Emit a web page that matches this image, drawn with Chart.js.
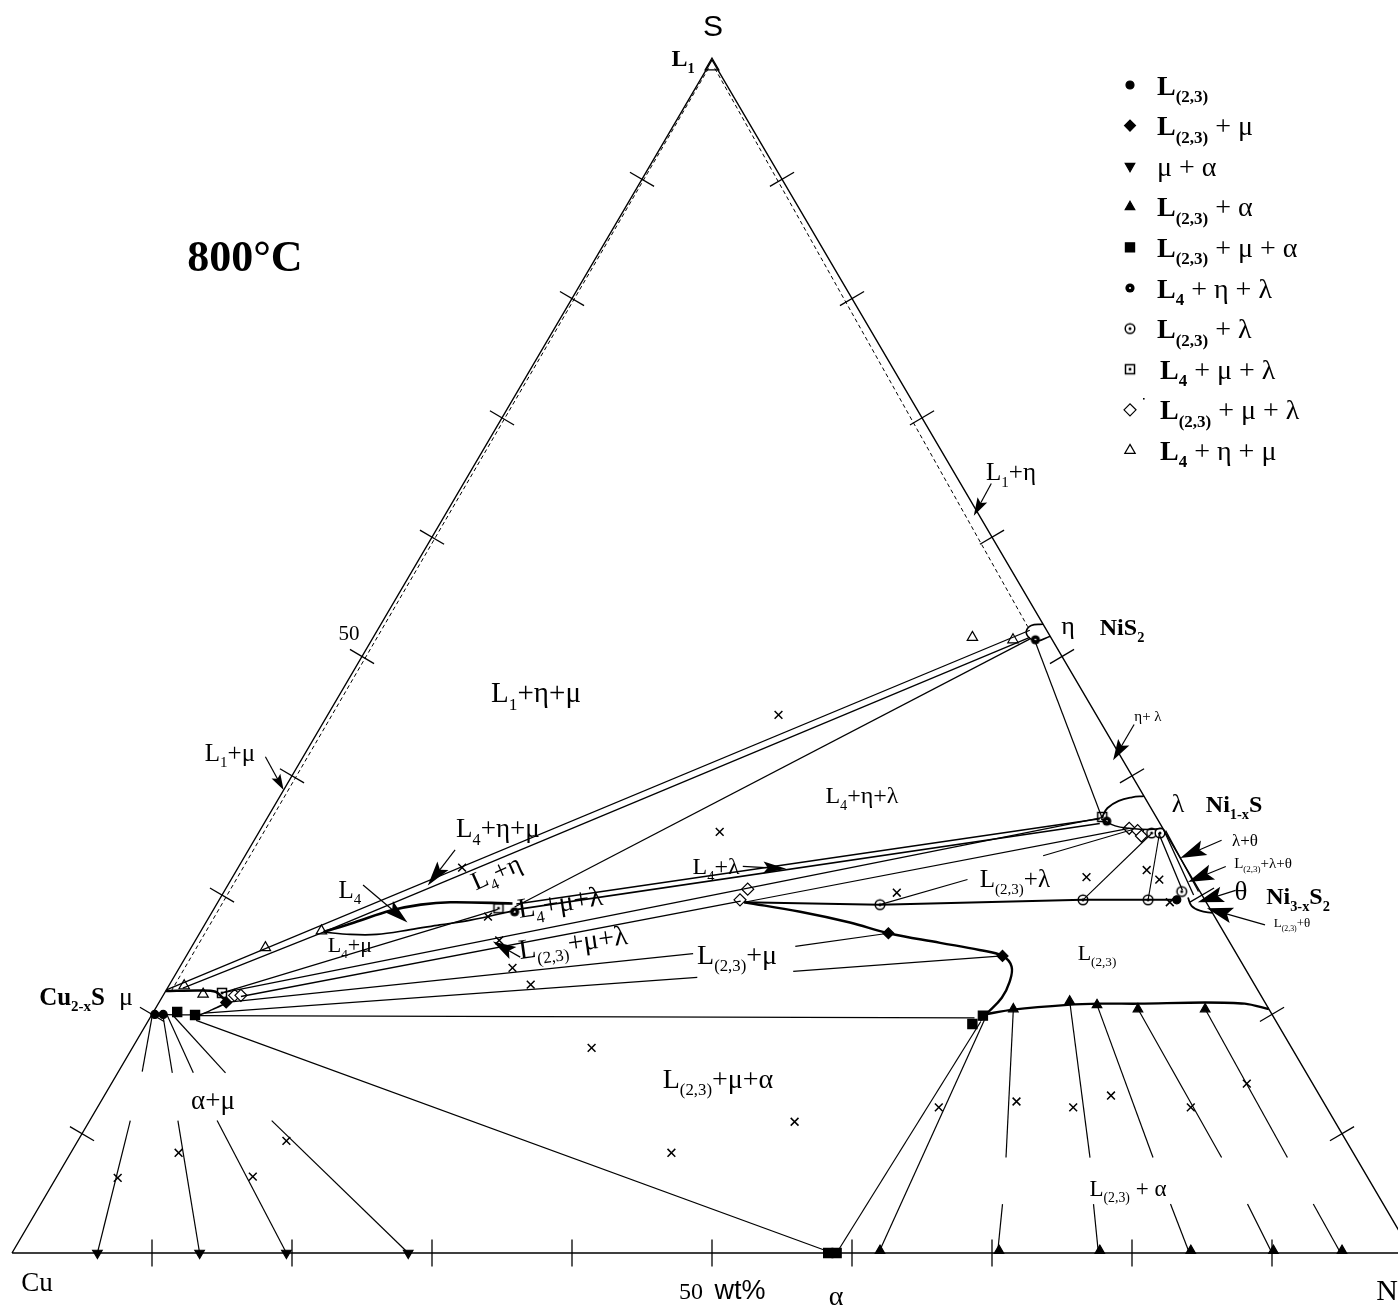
<!DOCTYPE html>
<html>
<head>
<meta charset="utf-8">
<script src="https://cdn.jsdelivr.net/npm/chart.js@4.4.1/dist/chart.umd.min.js"></script>
<style>
html,body{margin:0;padding:0;background:#fff}
#wrap{width:1398px;height:1306px;position:relative}
</style>
</head>
<body>
<div id="wrap"><canvas id="c"></canvas></div>
<script>
const SERIF='"Liberation Serif","DejaVu Serif",serif';
const SANS='"Liberation Sans","DejaVu Sans",sans-serif';

// ---- compositions, each point is [wt% Ni, wt% S] (Cu = remainder) ----
const triangleFrame=[[0,0],[100,0],[0,100],[0,0]];
const tickValues=[10,20,30,40,50,60,70,80,90];

// L1 (sulfur liquid) limits
const l1CuSide=[[0.1,99.3],[0.4,22.0]];
const l1NiSide=[[0.55,99.3],[46.3,52.5]];

// tie lines / triangles around eta, L4 and lambda
const etaMu=[[0,22.05],[46.6,52.2]];
const l4EtaA=[[8.8,26.9],[46.9,51.6]];
const muL4Tip=[[1.1,22.2],[8.8,26.9]];
const l4EtaB=[[21.4,29.0],[47.0,51.5]];
const etaLambda=[[47.5,51.2],[59.6,36.5]];
const l4Upper=[[8.8,26.9],[10.6,27.7],[12.7,28.7],[14.6,29.2],[16.6,29.4],[21.1,29.3]];
const l4Lower=[[8.8,26.9],[10.8,26.7],[12.7,26.7],[14.9,27.1],[16.8,27.5],[18.8,27.9],[21.5,28.7]];
const l4LambdaUpper=[[21.4,29.25],[59.5,36.4]];
const l4LambdaLower=[[21.7,28.8],[59.7,36.0]];
const muLambda=[[4.1,21.8],[59.6,36.5]];
const muL4=[[4.1,21.8],[20.3,28.8]];
const muL23=[[5.6,21.5],[37.3,29.5]];
const l23Lambda=[[37.6,29.4],[62.0,35.6]];
const l23Upper=[[37.6,29.4],[47.4,29.2],[61.7,29.6],[68.5,29.6]];
const l23LambdaTies=[
  [[47.4,29.2],[52.6,31.3]], [[57.0,33.3],[62.3,35.5]],
  [[61.7,29.6],[63.8,35.1]], [[66.35,29.6],[64.4,35.1]]
];
const lambdaUpper=[[59.6,36.55],[59.6,37.3],[60.1,37.9],[60.9,38.2],[61.7,38.3]];
const lambdaLower=[[59.6,36.4],[60.9,35.8],[62.0,35.6],[63.5,35.5],[64.4,35.6]];
const lambdaTheta=[
  [[64.3,35.2],[68.4,30.4]], [[64.5,35.5],[69.4,30.0]], [[64.7,35.4],[69.6,30.3]]
];
const thetaBoundary=[[69.1,29.8],[69.7,29.1],[70.5,28.7],[71.5,28.5]];
const etaField=[[47.3,52.7],[46.5,52.6],[46.4,52.1],[46.9,51.55],[47.6,51.3],[48.3,51.7]];

// mu (Cu2-xS) field
const muUpper=[[0,21.96],[2.5,22.0],[3.6,21.9],[4.2,21.5],[4.9,21.0]];
const muLower=[[4.9,21.0],[4.1,20.4],[3.4,20.0],[0,20.0]];

// L(2,3) liquid field
const l23Left=[[37.6,29.4],[42.0,28.6],[46.0,27.7],[49.2,26.8],[53.3,26.0],[56.4,25.4],[58.3,24.9],[59.4,24.0],[59.9,22.7],[60.0,21.4],[59.6,20.1],[59.4,19.5]];
const l23Lower=[[59.5,20.0],[61.3,20.4],[65.0,20.8],[67.3,20.9],[70.1,20.9],[74.7,21.0],[77.6,20.9],[79.55,20.45]];
const l23MuTies=[
  [[4.8,21.0],[36.1,25.1]], [[43.1,25.7],[49.2,26.8]],
  [[3.7,20.1],[37.4,23.1]], [[44.0,23.6],[58.3,24.9]]
];

// L(2,3) + mu + alpha triangle
const muL23Base=[[3.3,19.9],[58.9,19.7]];
const muAlpha=[[3.4,19.5],[58.6,0]];
const l23AlphaEdge=[[59.5,19.4],[58.9,0]];

// alpha + mu and L(2,3) + alpha tie lines (broken around the field labels)
const muAlphaTies=[
  [[0,20.1],[1.7,15.2]], [[0.8,19.95],[3.9,15.1]], [[1.1,19.95],[5.4,15.1]], [[1.5,19.95],[7.7,15.1]],
  [[2.9,11.1],[6.1,0]], [[6.3,11.1],[13.4,0]], [[9.1,11.1],[19.6,0]], [[13.0,11.1],[28.3,0]]
];
const l23AlphaTies=[
  [[59.7,19.5],[61.9,0]],
  [[61.3,20.45],[67.0,8.0]], [[68.7,4.1],[70.4,0]],
  [[65.0,21.1],[73.0,8.0]], [[75.2,4.1],[77.6,0]],
  [[67.1,20.8],[77.5,8.0]], [[80.7,4.1],[84.1,0]],
  [[70.2,20.45],[82.4,8.0]], [[86.2,4.1],[90.0,0]],
  [[75.0,20.45],[87.1,8.0]], [[90.9,4.1],[94.9,0]]
];

// experimental points by phase assemblage
const ptsL1=[[0.25,99.5]];
const ptsL23=[[0.2,20.0],[0.8,20.0],[68.4,29.6]];
const ptsL23Mu=[[4.8,21.0],[49.2,26.8],[58.3,24.9]];
const ptsMuAlpha=[[6.1,0],[13.4,0],[19.6,0],[28.3,0]];
const ptsL23Alpha=[[61.3,20.45],[65.0,21.1],[67.1,20.8],[70.2,20.45],[75.0,20.45],
                   [61.9,0.2],[70.4,0.2],[77.6,0.2],[84.1,0.2],[90.0,0.2],[94.9,0.2]];
const ptsL23MuAlpha=[[1.7,20.2],[3.1,19.95],[59.0,19.2],[59.4,19.9],[58.3,0],[58.9,0]];
const ptsL4EtaLambda=[[21.6,28.6],[47.4,51.4],[60.1,36.2]];
const ptsL23Lambda=[[47.4,29.2],[61.7,29.6],[66.35,29.6],[63.8,35.2],[64.4,35.2],[68.4,30.3]];
const ptsL4MuLambda=[[4.1,21.8],[20.3,28.9],[59.6,36.55]];
const ptsL23MuLambda=[[5.1,21.6],[5.55,21.6],[37.2,29.6],[37.3,30.5],[62.0,35.6],[62.7,35.4],[63.2,34.95]];
const ptsL4EtaMu=[[1.1,22.4],[2.8,21.7],[5.3,25.6],[8.6,27.0],[42.8,51.6],[45.8,51.4]];
const bulkSamples=[[32.2,45.1],[32.9,35.3],[16.0,32.3],[19.9,28.2],[21.7,26.2],[23.8,23.9],[25.8,22.5],
  [48.1,30.2],[61.0,31.5],[65.0,32.1],[66.3,31.3],[68.0,29.4],[32.8,17.2],[50.4,11.0],[42.9,8.4],
  [60.1,12.2],[65.4,12.7],[69.7,12.2],[71.9,13.2],[78.1,12.2],[81.1,14.2],
  [4.4,6.3],[7.7,8.4],[14.0,6.4],[14.9,9.4]];

// pointer arrows: [tail, tip]
const arrows=[
  {from:[-2.7,41.6], to:[0.0,38.8], head:[16,5]},
  {from:[37.7,64.5], to:[37.8,61.8], head:[18,5.5]},
  {from:[58.0,44.3], to:[58.0,41.3], head:[21,6.5]},
  {from:[14.75,33.8], to:[14.3,30.8], head:[25,7]},
  {from:[9.65,30.85], to:[14.4,27.7], head:[25,7]},
  {from:[36.0,32.4], to:[39.2,32.2], head:[23,6]},
  {from:[23.9,24.8], to:[21.3,26.1], head:[23,7]},
  {from:[69.1,34.6], to:[66.9,33.1], head:[26,8]},
  {from:[70.5,32.4], to:[68.45,31.1], head:[26,8]},
  {from:[72.2,30.4], to:[70.0,29.4], head:[26,8]},
  {from:[75.75,27.5], to:[70.9,28.9], head:[26,8]}
];

// text placed in chart units (x = Ni + S/2, y = S)
const labels=[
  {t:'S', at:[50.07,102.85], size:30, fam:SANS},
  {t:'*L_{1}*', at:[47.93,100.17], size:24},
  {t:'*800°C*', at:[16.64,83.57], size:44},
  {t:'50', at:[24.07,51.97], size:21},
  {t:'L_{1}+η+μ', at:[37.43,47.02], size:29},
  {t:'L_{1}+μ', at:[15.57,41.99], size:25},
  {t:'L_{1}+η', at:[71.36,65.47], size:25},
  {t:'η', at:[75.43,52.64], size:26},
  {t:'*NiS_{2}*', at:[79.29,52.47], size:24},
  {t:'η+ λ', at:[81.14,45.01], size:15},
  {t:'λ', at:[83.29,37.72], size:26},
  {t:'*Ni_{1-x}S*', at:[87.29,37.64], size:24},
  {t:'λ+θ', at:[88.07,34.62], size:17},
  {t:'L_{(2,3)}+λ+θ', at:[89.36,32.69], size:15},
  {t:'θ', at:[87.79,30.34], size:27},
  {t:'*Ni_{3-x}S_{2}*', at:[91.86,29.92], size:24},
  {t:'L_{(2,3)}+θ', at:[91.43,27.66], size:13},
  {t:'L_{4}+η+λ', at:[60.71,38.39], size:24},
  {t:'L_{4}+η+μ', at:[34.71,35.62], size:27},
  {t:'L_{4}+η', at:[34.57,31.94], size:26, rot:-24},
  {t:'L_{4}', at:[24.14,30.51], size:25},
  {t:'L_{4}+μ', at:[24.14,25.82], size:22},
  {t:'L_{4}+μ+λ', at:[39.14,29.42], size:28, rot:-9},
  {t:'L_{(2,3)}+μ+λ', at:[40.07,26.07], size:28, rot:-8},
  {t:'L_{4}+λ', at:[50.29,32.44], size:24},
  {t:'L_{(2,3)}+λ', at:[71.64,31.35], size:25},
  {t:'L_{(2,3)}+μ', at:[51.79,25.06], size:28},
  {t:'L_{(2,3)}', at:[77.5,25.15], size:22},
  {t:'*Cu_{2-x}S*', at:[4.29,21.54], size:25},
  {t:'μ', at:[8.14,21.54], size:26},
  {t:'α+μ', at:[14.36,12.82], size:27},
  {t:'L_{(2,3)}+μ+α', at:[50.43,14.67], size:28},
  {t:'L_{(2,3)} + α', at:[79.71,5.45], size:23},
  {t:'Cu', at:[1.79,-2.43], size:27},
  {t:'50', at:[48.5,-3.19], size:24},
  {t:'wt%', at:[52.0,-3.1], size:27, fam:SANS},
  {t:'α', at:[58.86,-3.6], size:28},
  {t:'Ni', at:[97.45,-3.1], size:30, align:'left'}
];

// legend rows (marker key, text)
const legendRows=[
  ['l23','*L_{(2,3)}*'],
  ['l23mu','*L_{(2,3)}* + μ'],
  ['mua','μ + α'],
  ['l23a','*L_{(2,3)}* + α'],
  ['l23mua','*L_{(2,3)}* + μ + α'],
  ['l4el','*L_{4}* + η + λ'],
  ['l23l','*L_{(2,3)}* + λ'],
  ['l4ml','*L_{4}* + μ + λ'],
  ['l23ml','*L_{(2,3)}* + μ + λ'],
  ['l4em','*L_{4}* + η + μ']
];

// ---- marker glyphs ----
function glyph(size, paint){
  const c=document.createElement('canvas'); c.width=size; c.height=size;
  const g=c.getContext('2d'); paint(g,size/2); return c;
}
const ringGlyph=glyph(12,(g,h)=>{g.fillStyle='#000';g.beginPath();g.arc(h,h,4.6,0,Math.PI*2);g.fill();
  g.fillStyle='#fff';g.beginPath();g.arc(h,h,1.1,0,Math.PI*2);g.fill();});
const dotCircleGlyph=glyph(14,(g,h)=>{g.fillStyle='#fff';g.strokeStyle='#000';g.lineWidth=1.5;
  g.beginPath();g.arc(h,h,4.8,0,Math.PI*2);g.fill();g.stroke();
  g.fillStyle='#000';g.beginPath();g.arc(h,h,1.5,0,Math.PI*2);g.fill();});
const dotSquareGlyph=glyph(14,(g,h)=>{g.fillStyle='#fff';g.strokeStyle='#000';g.lineWidth=1.5;
  g.fillRect(h-4.5,h-4.5,9,9);g.strokeRect(h-4.5,h-4.5,9,9);
  g.fillStyle='#000';g.fillRect(h-1.3,h-1.3,2.6,2.6);});

const MARK={
  l23:{pointStyle:'circle',radius:4,bg:'#000'},
  l23mu:{pointStyle:'rectRot',radius:5.5,bg:'#000'},
  mua:{pointStyle:'triangle',rotation:180,radius:5.5,bg:'#000'},
  l23a:{pointStyle:'triangle',radius:5.5,bg:'#000'},
  l23mua:{pointStyle:'rect',radius:6.5,bg:'#000'},
  l4el:{pointStyle:ringGlyph,radius:5,bg:'#000'},
  l23l:{pointStyle:dotCircleGlyph,radius:5,bg:'#fff'},
  l4ml:{pointStyle:dotSquareGlyph,radius:5,bg:'#fff'},
  l23ml:{pointStyle:'rectRot',radius:6,bg:'#fff'},
  l4em:{pointStyle:'triangle',radius:6,bg:'#fff'}
};

// ---- dataset builders ----
const toXY=p=>({x:p[0]+p[1]/2, y:p[1]});
function path(pts,w,extra){
  return Object.assign({data:pts.map(toXY),showLine:true,borderColor:'#000',borderWidth:w||1.2,
    pointRadius:0,fill:false,tension:0},extra||{});
}
function points(pts,key,extra){
  const m=MARK[key];
  return Object.assign({data:pts.map(toXY),showLine:false,pointStyle:m.pointStyle,pointRadius:m.radius,
    pointRotation:m.rotation||0,backgroundColor:m.bg,borderColor:'#000',borderWidth:1.2},extra||{});
}

const datasets=[
  path(triangleFrame,1.4),
  path(l1CuSide,1.0,{borderDash:[4,3]}),
  path(l1NiSide,1.0,{borderDash:[4,3]}),
  path(etaMu,1.3), path(l4EtaA,1.3), path(muL4Tip,1.2), path(l4EtaB,1.2), path(etaLambda,1.2),
  path(l4Upper,2.6,{tension:0.35}), path(l4Lower,1.7,{tension:0.35}),
  path(l4LambdaUpper,1.6), path(l4LambdaLower,1.6),
  path(muLambda,1.3), path(muL4,1.2), path(muL23,1.3), path(l23Lambda,1.2),
  path(l23Upper,2.0),
  ...l23LambdaTies.map(s=>path(s,1.1)),
  path(lambdaUpper,1.8,{tension:0.4}), path(lambdaLower,1.5,{tension:0.4}),
  ...lambdaTheta.map(s=>path(s,1.3)),
  path(thetaBoundary,1.8,{tension:0.4}),
  path(etaField,1.6,{tension:0.4}),
  path(muUpper,2.6,{tension:0.3}), path(muLower,1.4,{tension:0.3}),
  path(l23Left,2.4,{tension:0.4}), path(l23Lower,2.4,{tension:0.3}),
  ...l23MuTies.map(s=>path(s,1.2)),
  path(muL23Base,1.3), path(muAlpha,1.2), path(l23AlphaEdge,1.2),
  ...muAlphaTies.map(s=>path(s,1.2)),
  ...l23AlphaTies.map(s=>path(s,1.2)),
  {data:bulkSamples.map(toXY),showLine:false,pointStyle:'crossRot',pointRadius:5.5,borderColor:'#000',borderWidth:1.5},
  points(ptsL1,'l4em',{pointRadius:8}),
  points(ptsL23,'l23'),
  points(ptsL23Mu,'l23mu'),
  points(ptsMuAlpha,'mua'),
  points(ptsL23Alpha,'l23a'),
  points(ptsL23MuAlpha,'l23mua'),
  points(ptsL4EtaLambda,'l4el'),
  points(ptsL23Lambda,'l23l'),
  points(ptsL4MuLambda,'l4ml'),
  points(ptsL23MuLambda,'l23ml'),
  points(ptsL4EtaMu,'l4em')
];

// ---- rich text: *bold* toggles, _{...} subscript ----
function segments(str){
  const out=[];let bold=false,buf='',i=0;
  const push=(t,sub)=>{if(t)out.push({t,sub,bold});};
  while(i<str.length){
    const c=str[i];
    if(c==='*'){push(buf,false);buf='';bold=!bold;i++;}
    else if(c==='_'&&str[i+1]==='{'){push(buf,false);buf='';const j=str.indexOf('}',i);push(str.slice(i+2,j),true);i=j+1;}
    else{buf+=c;i++;}
  }
  push(buf,false);return out;
}
function drawRich(ctx,str,x,y,o){
  const size=o.size,fam=o.fam||SERIF,subSize=o.subSize||size*0.6;
  const segs=segments(str);
  const font=s=>(s.bold?'bold ':'')+(s.sub?subSize:size)+'px '+fam;
  let w=0;segs.forEach(s=>{ctx.font=font(s);s.w=ctx.measureText(s.t).width;w+=s.w;});
  ctx.save();ctx.translate(x,y);if(o.rot)ctx.rotate(o.rot*Math.PI/180);
  let cx=o.align==='left'?0:(o.align==='right'?-w:-w/2);
  ctx.textAlign='left';ctx.textBaseline='alphabetic';ctx.fillStyle='#000';
  const base=size*0.34;
  segs.forEach(s=>{ctx.font=font(s);ctx.fillText(s.t,cx,base+(s.sub?size*0.27:0));cx+=s.w;});
  ctx.restore();
}

function drawMarker(ctx,key,x,y){
  const m=MARK[key];
  ctx.save();ctx.fillStyle=m.bg;ctx.strokeStyle='#000';ctx.lineWidth=1.2;
  Chart.helpers.drawPoint(ctx,{pointStyle:m.pointStyle,radius:m.radius,rotation:m.rotation||0,borderWidth:1.2},x,y);
  ctx.restore();
}

const decor={
  id:'decor',
  beforeDraw(chart){const c=chart.ctx;c.save();c.fillStyle='#fff';c.fillRect(0,0,chart.width,chart.height);c.restore();},
  afterDatasetsDraw(chart){
    const ctx=chart.ctx,xs=chart.scales.x,ys=chart.scales.y;
    const P=p=>({x:xs.getPixelForValue(p[0]+p[1]/2),y:ys.getPixelForValue(p[1])});
    const Q=a=>({x:xs.getPixelForValue(a[0]),y:ys.getPixelForValue(a[1])});
    ctx.save();ctx.strokeStyle='#000';ctx.fillStyle='#000';ctx.lineWidth=1.3;
    // edge ticks, perpendicular to each side
    const edges=[
      {a:[0,0],b:[100,0],at:v=>[v,0],len:13.5},
      {a:[0,0],b:[0,100],at:v=>[0,v],len:14},
      {a:[100,0],b:[0,100],at:v=>[100-v,v],len:14}
    ];
    edges.forEach(e=>{
      const A=P(e.a),B=P(e.b);let dx=B.x-A.x,dy=B.y-A.y;const L=Math.hypot(dx,dy);dx/=L;dy/=L;
      const nx=-dy,ny=dx;
      tickValues.forEach(v=>{const C=P(e.at(v));ctx.beginPath();
        ctx.moveTo(C.x-nx*e.len,C.y-ny*e.len);ctx.lineTo(C.x+nx*e.len,C.y+ny*e.len);ctx.stroke();});
    });
    // arrows
    ctx.lineWidth=1.2;
    arrows.forEach(a=>{
      const A=P(a.from),B=P(a.to);let dx=B.x-A.x,dy=B.y-A.y;const L=Math.hypot(dx,dy);dx/=L;dy/=L;
      const [hl,hw]=a.head;
      ctx.beginPath();ctx.moveTo(A.x,A.y);ctx.lineTo(B.x-dx*hl*0.5,B.y-dy*hl*0.5);ctx.stroke();
      ctx.beginPath();ctx.moveTo(B.x,B.y);
      ctx.lineTo(B.x-dx*hl-dy*hw,B.y-dy*hl+dx*hw);
      ctx.lineTo(B.x-dx*hl*0.8,B.y-dy*hl*0.8);
      ctx.lineTo(B.x-dx*hl+dy*hw,B.y-dy*hl-dx*hw);
      ctx.closePath();ctx.fill();
    });
    // labels
    labels.forEach(l=>{const p=Q(l.at);drawRich(ctx,l.t,p.x,p.y,l);});
    // legend
    const lx=1130,tx=1157,ly0=85,step=40.6;
    legendRows.forEach((r,i)=>{
      const y=ly0+i*step;
      drawMarker(ctx,r[0],lx,y);
      drawRich(ctx,r[1],tx+(i>=7?3:0),y,{size:28,subSize:17,align:'left'});
    });
    ctx.fillRect(1143,398,1.6,1.6);
    ctx.restore();
  }
};

new Chart(document.getElementById('c'),{
  type:'scatter',
  data:{datasets},
  options:{
    responsive:true,maintainAspectRatio:false,animation:false,devicePixelRatio:1,events:[],
    layout:{padding:0,autoPadding:false},
    plugins:{legend:{display:false},tooltip:{enabled:false}},
    scales:{
      x:{type:'linear',min:-0.8571,max:99.0,display:false},
      y:{type:'linear',min:-4.443,max:105.029,display:false}
    }
  },
  plugins:[decor]
});
</script>
</body>
</html>
